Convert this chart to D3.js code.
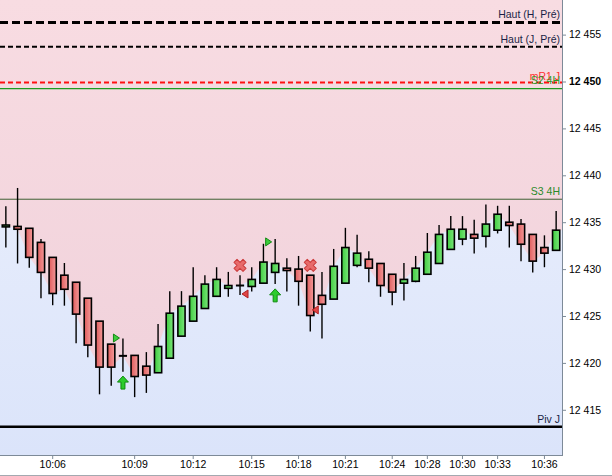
<!DOCTYPE html>
<html>
<head>
<meta charset="utf-8">
<script src="https://cdn.jsdelivr.net/npm/d3@7"></script>
<style>
body { margin: 0; background: #fff; }
text { font-family: "Liberation Sans", Arial, sans-serif; }
</style>
</head>
<body>
<div id="chart"></div>
<script>
// Intraday candlestick chart with pivot levels

var width = 612,
	height = 476;
var plotW = 562,
	plotH = 455;

// OHLC per candle (48 candles)
var opens  = [12434.5, 12434.55, 12434.35, 12432.85, 12431.25, 12429.35, 12428.6, 12426.9, 12424.45, 12422.0,
              12420.75, 12420.8, 12419.65, 12418.95, 12420.5, 12422.85, 12424.45, 12425.8, 12427.1, 12427.95,
              12428.25, 12428.15, 12428.5, 12429.65, 12430.1, 12430.0, 12429.35, 12427.2, 12426.8, 12428.5,
              12430.4, 12431.05, 12430.6, 12429.45, 12428.5, 12428.7, 12429.45, 12430.6, 12432.1, 12433.2,
              12433.7, 12433.5, 12434.15, 12435.0, 12434.8, 12433.7, 12432.3, 12432.0];
var highs  = [12436.7, 12438.65, 12434.35, 12433.2, 12431.25, 12430.65, 12428.6, 12426.9, 12424.45, 12422.0,
              12422.6, 12420.8, 12421.15, 12424.15, 12427.65, 12427.65, 12430.2, 12429.35, 12430.2, 12429.7,
              12429.35, 12430.2, 12432.7, 12433.2, 12431.15, 12431.4, 12429.35, 12429.7, 12432.15, 12434.4,
              12433.65, 12431.9, 12430.6, 12429.45, 12430.65, 12431.4, 12433.85, 12434.7, 12435.65, 12435.65,
              12435.25, 12436.9, 12436.75, 12436.75, 12435.35, 12433.7, 12433.6, 12436.2];
var lows   = [12432.3, 12430.6, 12430.15, 12426.9, 12426.15, 12426.1, 12422.1, 12420.6, 12416.65, 12417.55,
              12419.05, 12416.35, 12416.8, 12418.95, 12420.5, 12422.85, 12424.45, 12425.8, 12427.1, 12427.05,
              12427.25, 12427.6, 12428.5, 12428.4, 12427.6, 12426.1, 12423.35, 12422.6, 12426.8, 12428.5,
              12430.2, 12428.6, 12427.05, 12426.15, 12426.65, 12428.6, 12429.45, 12430.6, 12432.1, 12432.55,
              12431.65, 12432.3, 12433.8, 12432.3, 12430.85, 12429.65, 12430.2, 12432.0];
var closes = [12434.7, 12434.25, 12431.25, 12429.65, 12427.4, 12427.85, 12425.2, 12421.9, 12419.55, 12419.55,
              12420.75, 12418.55, 12418.7, 12421.75, 12425.3, 12426.05, 12427.1, 12428.4, 12428.9, 12428.25,
              12428.25, 12428.9, 12430.75, 12430.6, 12429.85, 12428.7, 12425.05, 12426.25, 12430.3, 12432.3,
              12431.7, 12430.1, 12428.25, 12427.55, 12428.9, 12430.1, 12431.8, 12433.7, 12434.25, 12434.25,
              12433.3, 12434.8, 12435.85, 12434.65, 12432.65, 12430.85, 12431.7, 12434.15];

// Time axis: candle index of each label
var tickIdx  = [4, 11, 16, 21, 25, 29, 33, 36, 39, 42, 46];
var tickText = ["10:06", "10:09", "10:12", "10:15", "10:18", "10:21", "10:24", "10:28", "10:30", "10:33", "10:36"];

// Price axis
var yTicks = [12415, 12420, 12425, 12430, 12435, 12440, 12445, 12450, 12455];

// Horizontal levels
var levelNames  = ["Haut (H, Pré)", "Haut (J, Pré)", "mR1 J", "S2 4H", "S3 4H", "Piv J"];
var levelValues = [12456.3, 12453.7, 12449.9, 12449.25, 12437.45, 12413.2];

// Signals drawn on candles
var sigIdx  = [10, 10, 23, 23, 20, 20, 26, 26];
var sigType = ["buyTri", "arrowUp", "buyTri", "arrowUp", "cross", "sellTri", "cross", "sellTri"];
var sigVal  = [12422.65, 12417.9, 12432.9, 12427.2, 12430.4, 12427.35, 12430.4, 12425.65];

// Style per level
var levelStyle = {
	"Haut (H, Pré)": { color: "#000", w: 3,   dash: "8,4", label: "#1a1f45", dy: -4 },
	"Haut (J, Pré)": { color: "#000", w: 2,   dash: "5,3", label: "#1a1f45", dy: -4 },
	"mR1 J":         { color: "#ff1010", w: 2, dash: "5,3", label: "#ff3030", dy: -2 },
	"S2 4H":         { color: "#1e9a1e", w: 1.2, dash: null, label: "#2a9a2a", dy: -5 },
	"S3 4H":         { color: "#3f5f33", w: 1, dash: null, label: "#2a8a2a", dy: -4 },
	"Piv J":         { color: "#000", w: 2.5, dash: null, label: "#1a1f45", dy: -4 }
};

var candles = d3.range(opens.length).map(function(i) {
	return { i: i, o: opens[i], h: highs[i], l: lows[i], c: closes[i] };
});

var x = d3.scaleBand()
	.domain(d3.range(candles.length))
	.range([0, plotW])
	.paddingInner(0.3)
	.paddingOuter(0.15);
var xc = function(i) { return x(i) + x.bandwidth() / 2; };

var y = d3.scaleLinear()
	.domain([12410.18, 12458.69])
	.range([plotH, 0]);

var fmt = d3.formatLocale({ decimal: ",", thousands: " ", grouping: [3], currency: ["", ""] }).format(",");

var svg = d3.select("#chart").append("svg")
	.attr("width", width)
	.attr("height", height);

var defs = svg.append("defs");

function vGrad(id, c0, c1) {
	var g = defs.append("linearGradient").attr("id", id)
		.attr("gradientUnits", "userSpaceOnUse")
		.attr("x1", 0).attr("y1", 0).attr("x2", 0).attr("y2", plotH);
	g.append("stop").attr("offset", "0%").attr("stop-color", c0);
	g.append("stop").attr("offset", "100%").attr("stop-color", c1);
}
function hGrad(id, c0, c1) {
	var g = defs.append("linearGradient").attr("id", id)
		.attr("x1", 0).attr("y1", 0).attr("x2", 1).attr("y2", 0);
	g.append("stop").attr("offset", "0%").attr("stop-color", c0);
	g.append("stop").attr("offset", "100%").attr("stop-color", c1);
}
vGrad("pinkBg", "#f8dce2", "#efd0da");
vGrad("blueBg", "#eef2fd", "#dbe4fa");
hGrad("redBody", "#e05c5c", "#f39a9a");
hGrad("greenBody", "#3fcc3f", "#7be67b");

var plot = svg.append("g");

// Background: blue below the close line, pink above it
plot.append("rect")
	.attr("width", plotW).attr("height", plotH)
	.attr("fill", "url(#blueBg)");

var bgPts = [[0, y(closes[0])]]
	.concat(candles.map(function(d) { return [xc(d.i), y(d.c)]; }))
	.concat([[plotW, y(closes[closes.length - 1])]]);

plot.append("path")
	.datum(bgPts)
	.attr("fill", "url(#pinkBg)")
	.attr("d", d3.area().x(function(d) { return d[0]; }).y0(0).y1(function(d) { return d[1]; }));

// Levels
var levels = levelNames.map(function(n, k) { return { name: n, v: levelValues[k] }; });

plot.selectAll("line.level")
	.data(levels)
	.enter().append("line")
	.attr("class", "level")
	.attr("x1", 0).attr("x2", plotW)
	.attr("y1", function(d) { return y(d.v); })
	.attr("y2", function(d) { return y(d.v); })
	.attr("stroke", function(d) { return levelStyle[d.name].color; })
	.attr("stroke-width", function(d) { return levelStyle[d.name].w; })
	.attr("stroke-dasharray", function(d) { return levelStyle[d.name].dash; });

// Candles
var cg = plot.selectAll("g.candle")
	.data(candles)
	.enter().append("g")
	.attr("class", "candle");

cg.append("line")
	.attr("x1", function(d) { return xc(d.i); })
	.attr("x2", function(d) { return xc(d.i); })
	.attr("y1", function(d) { return y(d.h); })
	.attr("y2", function(d) { return y(d.l); })
	.attr("stroke", "#000")
	.attr("stroke-width", 1.4);

cg.filter(function(d) { return d.o !== d.c; })
	.append("rect")
	.attr("x", function(d) { return x(d.i) + 0.5; })
	.attr("width", x.bandwidth() - 1)
	.attr("y", function(d) { return y(Math.max(d.o, d.c)); })
	.attr("height", function(d) { return Math.max(1.2, Math.abs(y(d.o) - y(d.c))); })
	.attr("fill", function(d) { return d.c > d.o ? "url(#greenBody)" : "url(#redBody)"; })
	.attr("stroke", "#000")
	.attr("stroke-width", 1.6);

cg.filter(function(d) { return d.o === d.c; })
	.append("line")
	.attr("x1", function(d) { return x(d.i); })
	.attr("x2", function(d) { return x(d.i) + x.bandwidth(); })
	.attr("y1", function(d) { return y(d.c); })
	.attr("y2", function(d) { return y(d.c); })
	.attr("stroke", "#000")
	.attr("stroke-width", 2);

// Signals
var sigShapes = {
	buyTri:  { d: "M-3,-4L3,0L-3,4Z", fill: "#3ccc3c", stroke: "#138a13", dx: -6.5 },
	sellTri: { d: "M3,-4L-3,0L3,4Z", fill: "#e04646", stroke: "#b01f1f", dx: 5 },
	arrowUp: { d: "M0,-6.5L5.5,-0.5L2,-0.5L2,6.5L-2,6.5L-2,-0.5L-5.5,-0.5Z", fill: "#2ccc2c", stroke: "#0e8a0e", dx: 0 },
	cross:   { d: d3.symbol(d3.symbolCross, 90)(), fill: "#e86a6a", stroke: "#cc3a3a", dx: 0, rot: 45 }
};
var signals = sigIdx.map(function(i, k) { return { i: i, type: sigType[k], v: sigVal[k] }; });

plot.selectAll("path.signal")
	.data(signals)
	.enter().append("path")
	.attr("class", "signal")
	.attr("d", function(d) { return sigShapes[d.type].d; })
	.attr("transform", function(d) {
		var s = sigShapes[d.type];
		return "translate(" + (xc(d.i) + s.dx) + "," + y(d.v) + ")" + (s.rot ? " rotate(" + s.rot + ")" : "");
	})
	.attr("fill", function(d) { return sigShapes[d.type].fill; })
	.attr("stroke", function(d) { return sigShapes[d.type].stroke; })
	.attr("stroke-width", 1)
	.attr("stroke-linejoin", "round");

// Level labels
plot.selectAll("text.levelLabel")
	.data(levels)
	.enter().append("text")
	.attr("class", "levelLabel")
	.attr("x", plotW - 2)
	.attr("y", function(d) { return y(d.v) + levelStyle[d.name].dy; })
	.attr("text-anchor", "end")
	.attr("font-size", "10.5px")
	.attr("fill", function(d) { return levelStyle[d.name].label; })
	.text(function(d) { return d.name; });

// Axes
var axisColor = "#7d8a98";

var yAxis = svg.append("g")
	.attr("transform", "translate(" + plotW + ",0)")
	.call(d3.axisRight(y).tickValues(yTicks).tickSize(4).tickPadding(3).tickFormat(fmt));
yAxis.select(".domain").attr("stroke", axisColor).attr("d", "M0.5,0V" + plotH);
yAxis.selectAll(".tick line").attr("stroke", axisColor);
yAxis.selectAll(".tick text")
	.attr("fill", "#000")
	.attr("font-size", "10.5px")
	.attr("font-weight", function(d) { return d === 12450 ? "bold" : "normal"; })
	.attr("font-family", "\"Liberation Sans\", Arial, sans-serif");

var xAxis = svg.append("g")
	.attr("transform", "translate(0," + plotH + ")")
	.call(d3.axisBottom(x).tickValues(tickIdx).tickSize(4).tickPadding(2)
		.tickFormat(function(d) { return tickText[tickIdx.indexOf(d)]; }));
xAxis.select(".domain").attr("stroke", axisColor).attr("d", "M0,0.5H" + (plotW + 1));
xAxis.selectAll(".tick line").attr("stroke", axisColor);
xAxis.selectAll(".tick text")
	.attr("fill", "#000")
	.attr("font-size", "10.5px")
	.attr("font-family", "\"Liberation Sans\", Arial, sans-serif");

svg.append("line")
	.attr("x1", 0).attr("x2", width)
	.attr("y1", height - 0.5).attr("y2", height - 0.5)
	.attr("stroke", "#a3a9b0");
</script>
</body>
</html>
